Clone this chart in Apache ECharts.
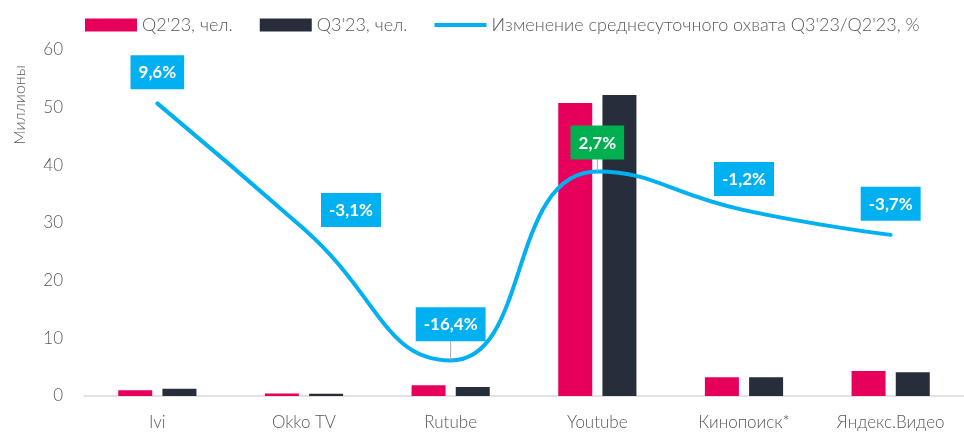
<!DOCTYPE html>
<html>
<head>
<meta charset="utf-8">
<script src="https://cdn.jsdelivr.net/npm/echarts@6/dist/echarts.min.js"></script>
<style>
    html, body { margin: 0; padding: 0; background: #fff; }
    #chart { width: 964px; height: 432px; }
</style>
</head>
<body>
<div id="chart"></div>
<script>
    // data
    var categories = ['Ivi', 'Okko TV', 'Rutube', 'Youtube', 'Кинопоиск*', 'Яндекс.Видео'];
    var q2Values = [1.0, 0.45, 1.85, 50.8, 3.25, 4.35];
    var q3Values = [1.25, 0.4, 1.55, 52.2, 3.25, 4.1];
    var changeValues = [9.6, -3.1, -16.4, 2.7, -1.2, -3.7];
    var seriesNames = ["Q2'23, чел.", "Q3'23, чел.", "Изменение среднесуточного охвата Q3'23/Q2'23, %"];

    var font = 'Lato, "Open Sans", sans-serif';
    var grey = '#595959';

    var chart = echarts.init(document.getElementById('chart'));

    var lineData = changeValues.map(function (v, i) {
        var item = { value: v };
        if (i === 2 || i === 3) {
            item.labelLine = { show: true };
        }
        if (i === 3) {
            item.label = { backgroundColor: '#00B050' };
        }
        return item;
    });

    chart.setOption({
        animation: false,
        grid: {
            left: 84,
            right: -6,
            top: 50,
            bottom: 36
        },
        legend: {
            left: 80,
            top: 11,
            itemWidth: 52,
            itemHeight: 13,
            itemGap: 27,
            textStyle: {
                fontFamily: font,
                fontWeight: 300,
                fontSize: 18,
                color: grey
            },
            data: [
                { name: seriesNames[0], icon: 'rect' },
                { name: seriesNames[1], icon: 'rect' },
                { name: seriesNames[2], icon: 'path://M0,0 L0.01,0 L0.01,13 L0,13 Z M0,4.5 L52,4.5 L52,8.5 L0,8.5 Z' }
            ]
        },
        graphic: [{
            type: 'text',
            x: 20,
            y: 105,
            rotation: Math.PI / 2,
            style: {
                text: 'Миллионы',
                fontFamily: font,
                fontWeight: 300,
                fontSize: 16,
                fill: grey,
                align: 'center',
                verticalAlign: 'middle'
            }
        }],
        xAxis: {
            type: 'category',
            data: categories,
            axisTick: { show: false },
            axisLine: {
                lineStyle: { color: '#D9D9D9', width: 1.5 }
            },
            axisLabel: {
                interval: 0,
                margin: 18,
                fontFamily: font,
                fontWeight: 300,
                fontSize: 17,
                color: grey
            }
        },
        yAxis: [{
            type: 'value',
            min: 0,
            max: 60,
            interval: 10,
            axisLine: { show: false },
            axisTick: { show: false },
            splitLine: { show: false },
            axisLabel: {
                margin: 21,
                fontFamily: font,
                fontWeight: 300,
                fontSize: 17,
                color: grey
            }
        }, {
            type: 'value',
            min: -20,
            max: 15,
            show: false,
            splitLine: { show: false }
        }],
        series: [{
            name: seriesNames[0],
            type: 'bar',
            data: q2Values,
            barWidth: 34,
            barGap: '30%',
            itemStyle: { color: '#E6005C' }
        }, {
            name: seriesNames[1],
            type: 'bar',
            data: q3Values,
            barWidth: 34,
            barGap: '30%',
            itemStyle: { color: '#272D3B' }
        }, {
            name: seriesNames[2],
            type: 'line',
            yAxisIndex: 1,
            data: lineData,
            smooth: 0.5,
            symbol: 'circle',
            symbolSize: 0.1,
            showSymbol: true,
            lineStyle: { color: '#00B0F0', width: 4, cap: 'round' },
            itemStyle: { color: '#00B0F0' },
            labelLine: {
                show: false,
                lineStyle: { color: '#A6A6A6', width: 1 }
            },
            labelLayout: function (p) {
                if (p.dataIndex === 1) return { dx: 47, dy: 12 };
                if (p.dataIndex === 2) return { dy: -5 };
                if (p.dataIndex === 3) return { dy: 2 };
                return {};
            },
            label: {
                show: true,
                position: 'top',
                distance: 14,
                backgroundColor: '#00B0F0',
                padding: [9, 8, 8, 8],
                color: '#fff',
                fontFamily: font,
                fontWeight: 'bold',
                fontSize: 17,
                formatter: function (p) {
                    return String(p.value).replace('.', ',') + '%';
                }
            },
            z: 5
        }]
    });
</script>
</body>
</html>
